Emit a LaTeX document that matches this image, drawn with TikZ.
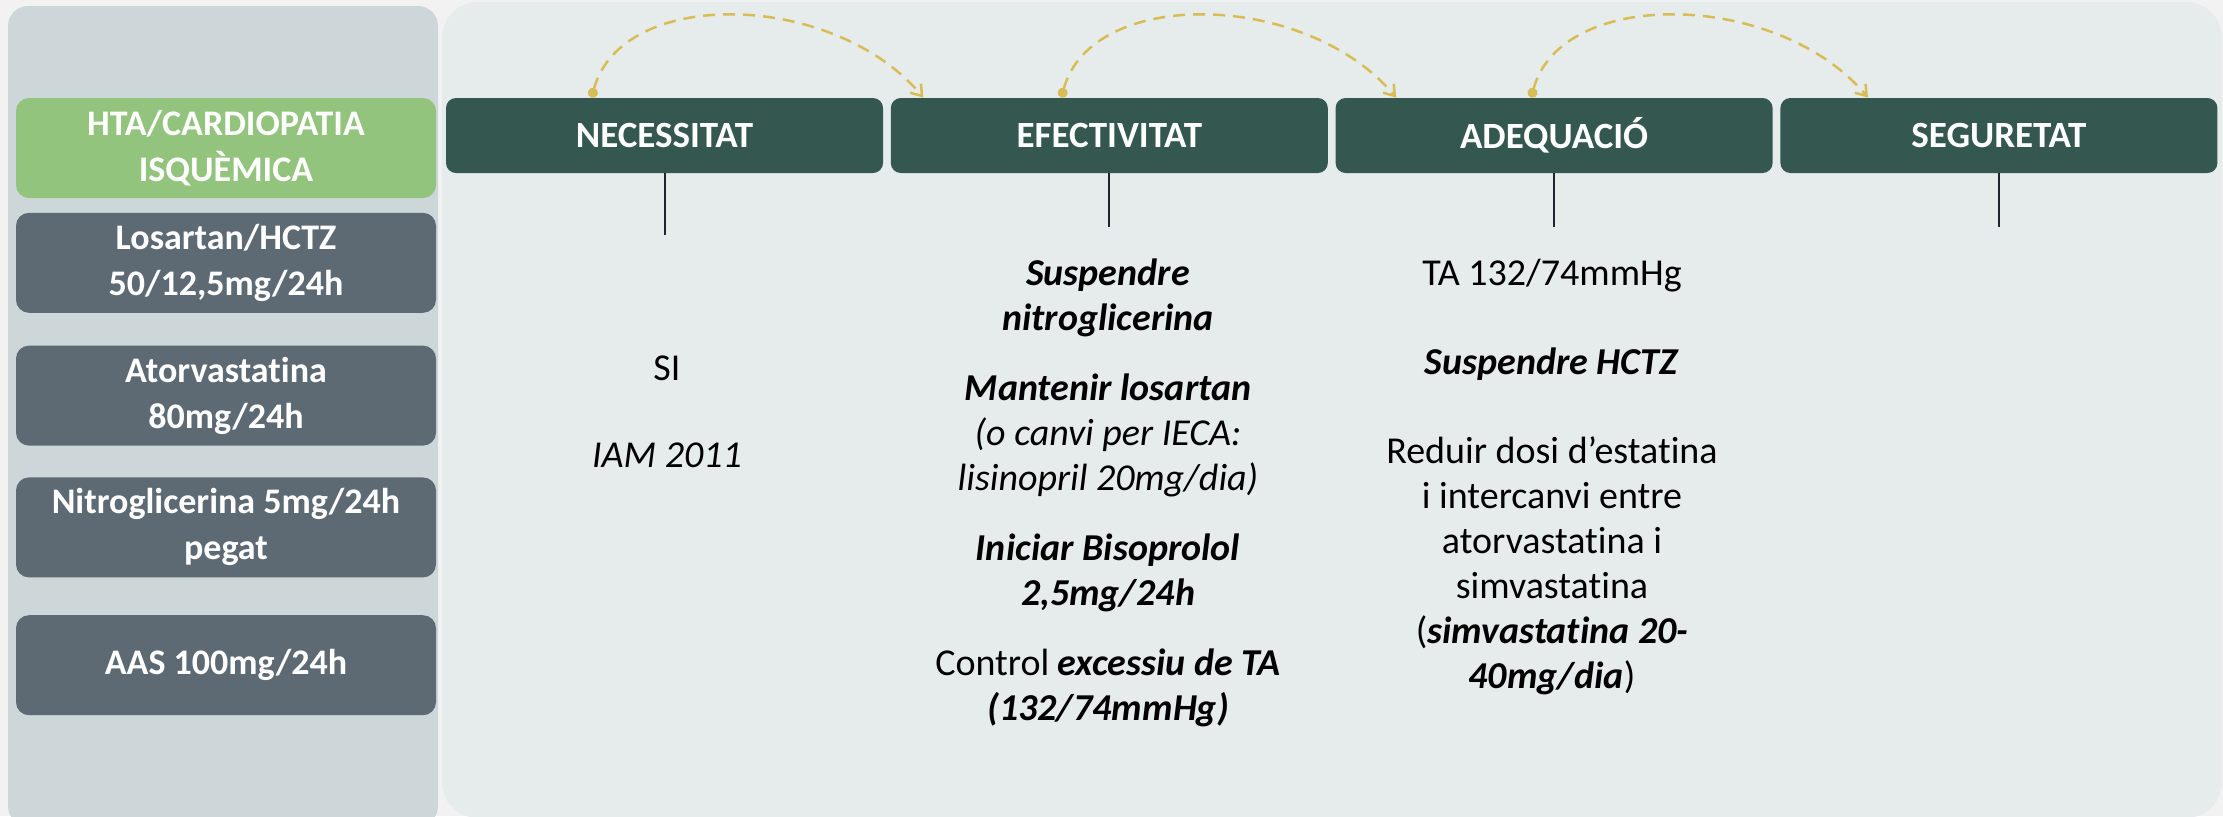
\documentclass[tikz,border=0pt]{standalone}
\usepackage{fontspec}
\setmainfont{Carlito}[Ligatures={TeX,NoCommon}]
\usetikzlibrary{positioning,arrows.meta}
\definecolor{pagebg}{HTML}{F2F2F2}
\definecolor{leftbg}{HTML}{CDD6D9}
\definecolor{rightbg}{HTML}{E6ECEB}
\definecolor{hdrgreen}{HTML}{345750}
\definecolor{slate}{HTML}{5D6A74}
\definecolor{leafgreen}{HTML}{93C47D}
\definecolor{gold}{HTML}{D8BC55}
\definecolor{stemcol}{HTML}{1E2430}
\newcommand{\bfit}[1]{\textbf{\textit{#1}}}

\begin{document}
\begin{tikzpicture}[x=0.5pt, y=-0.5pt,
  drug/.style={fill=slate, rounded corners=6.5pt,
               minimum width=210pt, minimum height=50pt,
               align=center, text=white,
               font=\fontsize{18}{23}\selectfont\bfseries},
  cond/.style={drug, fill=leafgreen},
  hdr/.style={fill=hdrgreen, rounded corners=5pt,
              minimum width=218.5pt, minimum height=37.5pt,
              text=white, font=\fontsize{18.5}{22}\selectfont\bfseries},
  body/.style={align=center, anchor=base, inner sep=0pt,
               font=\fontsize{19}{22.5}\selectfont},
  stem/.style={line width=1pt, draw=stemcol},
  hop/.style={draw=gold, line width=1.25pt, dash pattern=on 6pt off 4pt,
              {Circle[length=5pt]}-{Straight Barb[length=5pt,width=7pt]}},
  ]
  \useasboundingbox (0,0) rectangle (2223,816);
  \fill[pagebg] (0,0) rectangle (2223,816);
  \fill[leftbg, rounded corners=10pt] (8,6) rectangle (438,826);
  \fill[rightbg, rounded corners=18pt] (442,2) rectangle (2222,818);

  \node[cond] (hta) at (226,148) {HTA/CARDIOPATIA\\ISQUÈMICA};
  \node[drug, below=7pt of hta] (los) {Losartan/HCTZ\\50/12,5mg/24h};
  \node[drug, below=16pt of los] (ator) {Atorvastatina\\80mg/24h};
  \node[drug, below=15.5pt of ator] (nitro) {Nitroglicerina 5mg/24h\\pegat};
  \node[drug, below=18.5pt of nitro] (aas) {AAS 100mg/24h};

  \node[hdr] (nec) at (664.5,135.5) {NECESSITAT};
  \node[hdr, right=3.5pt of nec] (efe) {EFECTIVITAT};
  \node[hdr, right=3.5pt of efe] (ade) {ADEQUACIÓ};
  \node[hdr, right=3.5pt of ade] (seg) {SEGURETAT};

  \coordinate[below=31pt of nec] (necstem);
  \coordinate[below=27pt of efe] (efestem);
  \coordinate[below=27pt of ade] (adestem);
  \coordinate[below=27pt of seg] (segstem);
  \foreach \h in {nec,efe,ade,seg}
    \draw[stem] (\h.south) -- (\h stem);

  \coordinate (hop1a) at ([xshift=73pt]nec.north west);
  \coordinate (hop1b) at ([xshift=16.5pt]efe.north west);
  \coordinate (hop2a) at ([xshift=85.5pt]efe.north west);
  \coordinate (hop2b) at ([xshift=30.5pt]ade.north west);
  \coordinate (hop3a) at ([xshift=98pt]ade.north west);
  \coordinate (hop3b) at ([xshift=44pt]seg.north west);
  \foreach \i in {1,2,3}
    \draw[hop] (hop\i a) to[out=75, in=130, out distance=57.5pt, in distance=70pt] (hop\i b);

  \node[body] (necbody) at (667,467) {SI\\[21pt]\textit{IAM 2011}};
  \node[body] (efebody) at (1108,720)
    {\bfit{Suspendre}\\\bfit{nitroglicerina}\\[12.5pt]
     \bfit{Mantenir losartan}\\\textit{(o canvi per IECA:}\\\textit{lisinopril 20mg/dia)}\\[12.5pt]
     \bfit{Iniciar Bisoprolol}\\\bfit{2,5mg/24h}\\[12.5pt]
     Control \bfit{excessiu de TA}\\\bfit{(132/74mmHg)}};
  \node[body] (adebody) at (1552,688)
    {TA 132/74mmHg\\[22pt]
     \bfit{Suspendre HCTZ}\\[22pt]
     Reduir dosi d’estatina\\i intercanvi entre\\atorvastatina i\\simvastatina\\
     (\bfit{simvastatina 20-}\\\bfit{40mg/dia})};
\end{tikzpicture}
\end{document}
